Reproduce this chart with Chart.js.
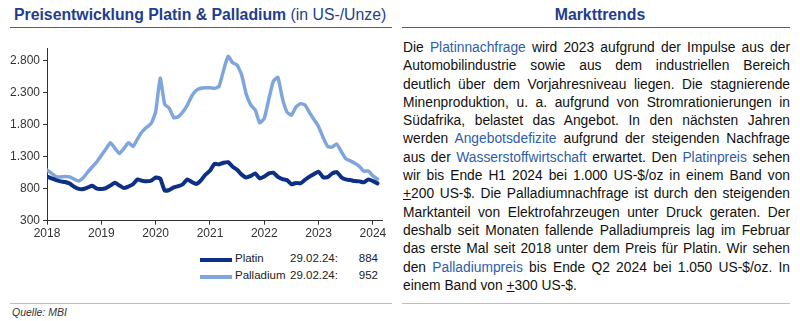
<!DOCTYPE html>
<html>
<head>
<meta charset="utf-8">
<script src="https://cdn.jsdelivr.net/npm/chart.js@4"></script>
<style>
  html, body { margin:0; padding:0; background:#fff; }
  body { width:800px; height:321px; position:relative; overflow:hidden; font-family:"Liberation Sans", Arial, sans-serif; }
  .title { position:absolute; left:14px; top:6px; font-size:15.8px; color:#1F3E8E; white-space:nowrap; }
  .title b { font-weight:bold; }
  .rule { position:absolute; height:0; border-top:1.5px solid #4A5F8E; }
  .grule { position:absolute; height:0; border-top:1px solid #BDBDBD; }
  #wrap { position:absolute; left:0; top:0; width:400px; height:250px; }
  .rtitle { position:absolute; left:400px; width:400px; top:6px; text-align:center; font-weight:bold; font-size:15.8px; color:#1F3E8E; }
  .txt { position:absolute; left:403px; top:39px; width:387px; font-size:13.8px; line-height:18.3px; color:#111; }
  .txt div { text-align:justify; text-align-last:justify; white-space:nowrap; height:18.3px; }
  .txt div.last { text-align-last:left; }
  .c { color:#2E5DAA; }
  .leg { position:absolute; font-size:11.5px; color:#222; white-space:nowrap; }
  .sw { position:absolute; left:200px; width:32px; }
  .src { position:absolute; left:12px; top:306px; font-size:10.5px; font-style:italic; color:#333; }
</style>
</head>
<body>
<div class="title"><b>Preisentwicklung Platin &amp; Palladium</b> (in US-/Unze)</div>
<div class="rule" style="left:10px; width:382px; top:27px;"></div>
<div id="wrap"><canvas id="c" width="400" height="250"></canvas></div>

<div class="sw" id="sw0" style="top:258px; height:4px;"></div>
<div class="sw" id="sw1" style="top:275px; height:3.5px;"></div>
<div class="leg" id="l0n" style="left:235px; top:252px;"></div>
<div class="leg" id="l1n" style="left:235px; top:269px;"></div>
<div class="leg" id="l0d" style="left:290px; top:252px;"></div>
<div class="leg" id="l1d" style="left:290px; top:269px;"></div>
<div class="leg" id="l0v" style="right:422px; top:252px;"></div>
<div class="leg" id="l1v" style="right:422px; top:269px;"></div>

<div class="grule" style="left:10px; width:382px; top:303px;"></div>
<div class="src">Quelle: MBI</div>

<div class="rtitle">Markttrends</div>
<div class="rule" style="left:402px; width:388px; top:27px;"></div>
<div class="txt">
<div>Die <span class="c">Platinnachfrage</span> wird 2023 aufgrund der Impulse aus der</div>
<div>Automobilindustrie sowie aus dem industriellen Bereich</div>
<div>deutlich über dem Vorjahresniveau liegen. Die stagnierende</div>
<div>Minenproduktion, u. a. aufgrund von Stromrationierungen in</div>
<div>Südafrika, belastet das Angebot. In den nächsten Jahren</div>
<div>werden <span class="c">Angebotsdefizite</span> aufgrund der steigenden Nachfrage</div>
<div>aus der <span class="c">Wasserstoffwirtschaft</span> erwartet. Den <span class="c">Platinpreis</span> sehen</div>
<div>wir bis Ende H1 2024 bei 1.000 US-$/oz in einem Band von</div>
<div><u>+</u>200 US-$. Die Palladiumnachfrage ist durch den steigenden</div>
<div>Marktanteil von Elektrofahrzeugen unter Druck geraten. Der</div>
<div>deshalb seit Monaten fallende Palladiumpreis lag im Februar</div>
<div>das erste Mal seit 2018 unter dem Preis für Platin. Wir sehen</div>
<div>den <span class="c">Palladiumpreis</span> bis Ende Q2 2024 bei 1.050 US-$/oz. In</div>
<div class="last">einem Band von <u>+</u>300 US-$.</div>
</div>
<div class="grule" style="left:402px; width:388px; top:303px;"></div>

<script>
// Monthly prices, Jan 2018 .. Feb 2024 (US-$/oz)
const startYear = 2018;
const yearTicks = [2018, 2019, 2020, 2021, 2022, 2023, 2024];
const yTicks = [300, 800, 1300, 1800, 2300, 2800];
const seriesNames = ["Platin", "Palladium"];
const lastDate = "29.02.24:";
const platin = [
  990, 960, 935, 915, 905, 880, 830, 798, 795, 820, 845, 800,
  795, 810, 850, 895, 850, 810, 835, 870, 945, 925, 915, 925,
  975, 960, 770, 780, 820, 840, 870, 945, 905, 875, 930, 1020,
  1080, 1190, 1180, 1205, 1215, 1145, 1095, 1020, 975, 1000, 1040, 960,
  990, 1040, 1050, 985, 950, 935, 870, 890, 885, 940, 990, 1030,
  1065, 980, 980, 1040, 1060, 980, 945, 935, 920, 915, 900, 945,
  920, 884
];
const palladium = [
  1092, 1040, 990, 985, 990, 985, 950, 920, 970, 1060, 1140, 1220,
  1320, 1420, 1520, 1430, 1350, 1430, 1520, 1460, 1580, 1690, 1760, 1820,
  2000, 2530, 2120, 2060, 1910, 1925, 2000, 2108, 2250, 2340, 2370, 2378,
  2378, 2369, 2400, 2650, 2870, 2770, 2733, 2580, 2280, 2110, 2030, 1830,
  1900, 2200, 2480, 2540, 2212, 2000, 1950, 2080, 2130, 2110, 1990, 1880,
  1770, 1600, 1460, 1450, 1500, 1380, 1270, 1235, 1200, 1150, 1075, 1077,
  1000, 952
];

const colors = ["#0E2F86", "#7FA6DC"];
const widths = [4, 3.5];
const all = [platin, palladium];

// legend
all.forEach((arr, k) => {
  document.getElementById("sw" + k).style.background = colors[k];
  document.getElementById("l" + k + "n").textContent = seriesNames[k];
  document.getElementById("l" + k + "d").textContent = lastDate;
  document.getElementById("l" + k + "v").textContent = String(arr[arr.length - 1]);
});

const fmt = v => v.toLocaleString("de-DE");

new Chart(document.getElementById("c"), {
  type: "line",
  data: {
    datasets: all.map((arr, k) => ({
      label: seriesNames[k],
      data: arr.map((v, i) => ({ x: i, y: v })),
      borderColor: colors[k],
      borderWidth: widths[k],
      pointRadius: 0,
      tension: 0.15,
      borderJoinStyle: "round",
      borderCapStyle: "round",
      fill: false
    }))
  },
  options: {
    responsive: false,
    animation: false,
    devicePixelRatio: 1,
    layout: { padding: { top: 48, right: 18, left: 0, bottom: 0 } },
    plugins: { legend: { display: false }, tooltip: { enabled: false } },
    scales: {
      x: {
        type: "linear",
        min: 0, max: 74,
        afterBuildTicks: s => { s.ticks = yearTicks.map(y => ({ value: (y - startYear) * 12 })); },
        afterFit: s => { s.height = 29.3; },
        ticks: { callback: v => String(startYear + Math.round(v / 12)), color: "#333", font: { family: "Liberation Sans", size: 12 }, padding: 2, maxRotation: 0, autoSkip: false },
        grid: { drawOnChartArea: false, tickLength: 4, color: "#333" },
        border: { color: "#333", width: 1 }
      },
      y: {
        min: 300, max: 3000,
        afterBuildTicks: s => { s.ticks = yTicks.map(v => ({ value: v })); },
        afterFit: s => { s.width = 47; },
        ticks: { callback: v => fmt(v), color: "#333", font: { family: "Liberation Sans", size: 12 }, padding: 3 },
        grid: { drawOnChartArea: false, tickLength: 4, color: "#333" },
        border: { color: "#333", width: 1 }
      }
    }
  }
});
</script>
</body>
</html>
